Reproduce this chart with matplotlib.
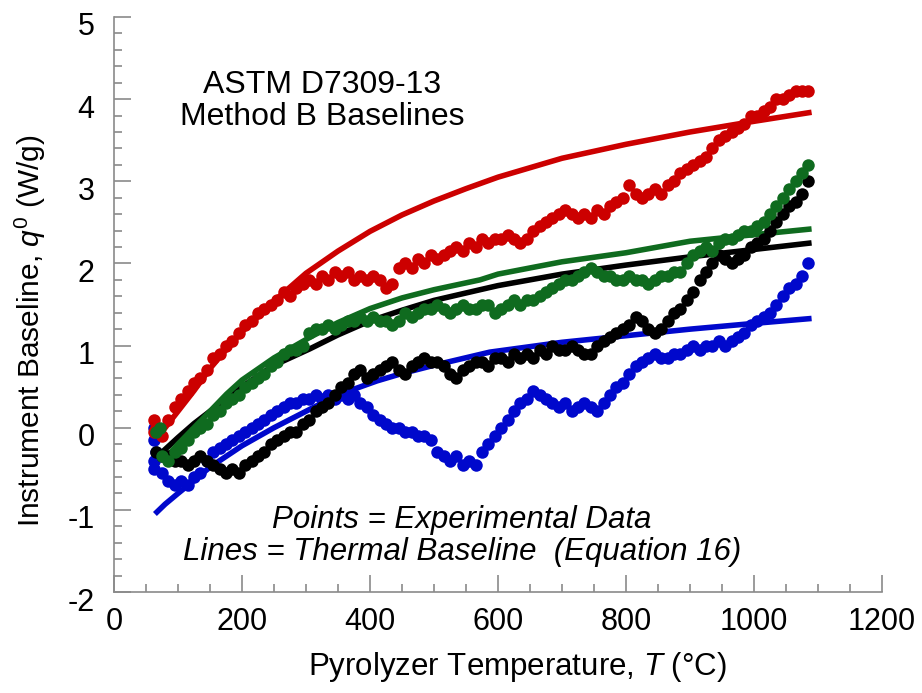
import numpy as np
import matplotlib
matplotlib.use("Agg")
import matplotlib.pyplot as plt
import matplotlib.transforms as mtransforms
from matplotlib.ticker import MultipleLocator

plt.rcParams['font.family'] = ['Liberation Sans', 'DejaVu Sans']
plt.rcParams['mathtext.fontset'] = 'custom'
plt.rcParams['mathtext.rm'] = 'Liberation Sans'
plt.rcParams['mathtext.it'] = 'Liberation Sans:italic'
plt.rcParams['axes.unicode_minus'] = False

# ---------------- data ----------------
T_points = np.arange(65, 1090, 10)   # 65, 75, ..., 1085

red_q = [0.0, -0.1, 0.1, 0.25,
         0.35, 0.45, 0.55, 0.6, 0.7, 0.85, 0.9, 1.0, 1.05, 1.15,
         1.25, 1.3, 1.4, 1.45, 1.5, 1.55, 1.65, 1.6, 1.7, 1.75,
         1.8, 1.75, 1.85, 1.8, 1.9, 1.85, 1.9, 1.8, 1.85, 1.8,
         1.85, 1.8, 1.7, 1.75, 1.95, 2.0, 1.95, 2.05, 2.0, 2.1,
         2.05, 2.1, 2.15, 2.2, 2.15, 2.25, 2.2, 2.3, 2.25, 2.3,
         2.3, 2.35, 2.3, 2.25, 2.3, 2.4, 2.45, 2.5, 2.55, 2.6,
         2.65, 2.6, 2.55, 2.6, 2.55, 2.65, 2.6, 2.7, 2.75, 2.8,
         2.95, 2.85, 2.8, 2.85, 2.9, 2.85, 2.95, 3.0, 3.1, 3.15,
         3.2, 3.25, 3.3, 3.4, 3.5, 3.55, 3.6, 3.65, 3.7, 3.8,
         3.8, 3.85, 3.9, 4.0, 4.0, 4.05, 4.1, 4.1, 4.1]

green_q = [-0.05, -0.35, -0.4, -0.3,
           -0.25, -0.15, -0.05, 0.0, 0.05, 0.15, 0.2, 0.3, 0.35, 0.4,
           0.5, 0.55, 0.6, 0.65, 0.75, 0.8, 0.9, 0.95, 0.95, 1.0,
           1.15, 1.2, 1.2, 1.25, 1.2, 1.25, 1.3, 1.3, 1.35, 1.3,
           1.35, 1.3, 1.3, 1.25, 1.3, 1.4, 1.35, 1.4, 1.45, 1.45,
           1.5, 1.45, 1.4, 1.45, 1.5, 1.45, 1.45, 1.5, 1.5, 1.4,
           1.45, 1.5, 1.55, 1.5, 1.55, 1.55, 1.6, 1.65, 1.7, 1.75,
           1.8, 1.8, 1.85, 1.9, 1.95, 1.9, 1.85, 1.85, 1.8, 1.8,
           1.85, 1.8, 1.8, 1.75, 1.8, 1.85, 1.85, 1.9, 1.9, 2.0,
           2.1, 2.15, 2.2, 2.15, 2.25, 2.3, 2.3, 2.35, 2.4, 2.4,
           2.45, 2.5, 2.6, 2.7, 2.8, 2.9, 3.0, 3.1, 3.2]

black_q = [-0.3, -0.35, -0.35, -0.4,
           -0.4, -0.45, -0.4, -0.35, -0.4, -0.45, -0.5, -0.55, -0.5, -0.55,
           -0.45, -0.4, -0.35, -0.3, -0.2, -0.15, -0.1, -0.05, -0.05, 0.05,
           0.1, 0.2, 0.25, 0.3, 0.4, 0.5, 0.55, 0.65, 0.7, 0.6,
           0.65, 0.7, 0.75, 0.8, 0.7, 0.65, 0.75, 0.8, 0.85, 0.8,
           0.8, 0.75, 0.65, 0.6, 0.7, 0.75, 0.8, 0.8, 0.75, 0.85,
           0.85, 0.8, 0.9, 0.85, 0.9, 0.85, 0.95, 0.9, 1.0, 0.95,
           0.95, 1.0, 0.95, 0.9, 0.9, 1.0, 1.05, 1.1, 1.15, 1.2,
           1.25, 1.35, 1.3, 1.2, 1.15, 1.2, 1.3, 1.4, 1.45, 1.55,
           1.65, 1.8, 1.9, 2.0, 2.1, 2.05, 2.0, 2.05, 2.1, 2.2,
           2.25, 2.3, 2.4, 2.5, 2.6, 2.7, 2.75, 2.85, 3.0]

blue_q = [-0.3, -0.55, -0.65, -0.7,
          -0.65, -0.7, -0.6, -0.55, -0.4, -0.3, -0.25, -0.2, -0.15, -0.1,
          -0.05, 0.0, 0.05, 0.1, 0.15, 0.2, 0.25, 0.3, 0.3, 0.35,
          0.35, 0.4, 0.35, 0.4, 0.35, 0.4, 0.35, 0.4, 0.3, 0.25,
          0.15, 0.1, 0.05, 0.0, 0.0, -0.05, -0.05, -0.1, -0.1, -0.15,
          -0.3, -0.35, -0.4, -0.35, -0.45, -0.4, -0.45, -0.3, -0.2, -0.1,
          0.0, 0.1, 0.2, 0.3, 0.35, 0.45, 0.4, 0.35, 0.3, 0.25,
          0.3, 0.2, 0.25, 0.3, 0.25, 0.2, 0.3, 0.4, 0.5, 0.55,
          0.65, 0.75, 0.8, 0.85, 0.9, 0.85, 0.85, 0.9, 0.9, 0.95,
          1.0, 0.95, 1.0, 1.0, 1.05, 1.0, 1.05, 1.1, 1.15, 1.25,
          1.3, 1.35, 1.4, 1.5, 1.6, 1.7, 1.75, 1.85, 2.0]

# extra points at the very start of each run (vertical spread)
red_start_T = [62, 62]
red_start_q = [0.1, -0.05]
blue_start_T = [62, 62, 62, 62]
blue_start_q = [0.0, -0.15, -0.4, -0.5]
green_start_T = [72]
green_start_q = [0.0]

# fitted thermal baselines (Equation 16)
red_fit_T = [70, 80, 100, 125, 150, 175, 200, 250, 300, 350, 400, 450, 500, 550, 600, 700, 800, 900, 1000, 1090]
red_fit_q = [-0.1, 0.0, 0.2, 0.45, 0.72, 0.95, 1.17, 1.54, 1.88, 2.15, 2.39, 2.59, 2.76, 2.91, 3.05, 3.28, 3.45, 3.6, 3.73, 3.84]

green_fit_T = [77, 100, 125, 150, 176, 200, 250, 306, 350, 400, 450, 500, 572, 600, 700, 800, 900, 1000, 1090]
green_fit_q = [-0.4, -0.2, 0.0, 0.2, 0.41, 0.58, 0.85, 1.1, 1.28, 1.45, 1.58, 1.68, 1.8, 1.87, 2.02, 2.13, 2.27, 2.35, 2.42]

black_fit_T = [72, 100, 125, 150, 176, 200, 250, 306, 350, 400, 450, 500, 572, 600, 700, 800, 900, 1000, 1090]
black_fit_q = [-0.32, -0.12, 0.05, 0.2, 0.33, 0.5, 0.76, 0.96, 1.13, 1.3, 1.43, 1.55, 1.68, 1.73, 1.87, 1.98, 2.08, 2.17, 2.25]

blue_fit_T = [64, 80, 100, 119, 150, 200, 250, 300, 350, 411, 450, 500, 587, 700, 800, 900, 1000, 1090]
blue_fit_q = [-1.05, -0.93, -0.8, -0.68, -0.48, -0.22, 0.0, 0.2, 0.4, 0.57, 0.66, 0.76, 0.92, 1.04, 1.12, 1.2, 1.27, 1.33]

RED = '#cc0000'
GREEN = '#0f6b1f'
BLUE = '#0008cc'
BLACK = '#000000'

# ---------------- figure ----------------
fig = plt.figure(figsize=(9.22, 6.93), dpi=100)
ax = fig.add_axes([0.1236, 0.1457, 0.833, 0.8298])

lw = 4.0
for T_f, q_f, c in [(blue_fit_T, blue_fit_q, BLUE), (black_fit_T, black_fit_q, BLACK),
                    (green_fit_T, green_fit_q, GREEN), (red_fit_T, red_fit_q, RED)]:
    ax.plot(T_f, q_f, color=c, lw=lw, solid_capstyle='butt', zorder=2)

ms = 9
series = [(blue_start_T, blue_start_q, blue_q, BLUE),
          ([], [], black_q, BLACK),
          (red_start_T, red_start_q, red_q, RED),
          (green_start_T, green_start_q, green_q, GREEN)]
for sT, sq, q, c in series:
    ax.plot(list(sT) + list(T_points), list(sq) + list(q), 'o', color=c, ms=ms,
            mec='none', zorder=3)

ax.set_xlim(0, 1200)
ax.set_ylim(-2, 5)
ax.xaxis.set_major_locator(MultipleLocator(200))
ax.xaxis.set_minor_locator(MultipleLocator(50))
ax.yaxis.set_major_locator(MultipleLocator(1))
ax.yaxis.set_minor_locator(MultipleLocator(0.2))

for s in ['top', 'right']:
    ax.spines[s].set_visible(False)
for s in ['left', 'bottom']:
    ax.spines[s].set_color('#8a8a8a')
    ax.spines[s].set_linewidth(1.2)

ax.tick_params(which='major', direction='in', length=12, width=1.2, color='#8a8a8a',
               labelsize=22)
ax.tick_params(which='minor', direction='in', length=6, width=1.2, color='#8a8a8a')
ax.tick_params(axis='x', which='major', pad=11)
ax.tick_params(axis='y', which='major', pad=14)

# y tick labels sit slightly below their ticks in the reference
offset = mtransforms.ScaledTranslation(0, -7 / 100, fig.dpi_scale_trans)
for lab in ax.get_yticklabels():
    lab.set_transform(lab.get_transform() + offset)

ax.set_xlabel('Pyrolyzer Temperature, $T$ (°C)', fontsize=22.5)
ax.xaxis.label.set_va('center')
ax.xaxis.set_label_coords(0.526, -0.1304)
ax.set_ylabel('Instrument Baseline, $q^0$ (W/g)', fontsize=21.5)
ax.yaxis.label.set_va('center')
ax.yaxis.set_label_coords(-0.109, 0.454)

ax.text(325, 3.98, 'ASTM D7309-13\nMethod B Baselines', ha='center', va='center',
        fontsize=23, linespacing=1.08)
ax.text(544, -1.12, 'Points = Experimental Data', ha='center', va='center',
        fontsize=22.5, style='italic')
ax.text(544, -1.51, 'Lines = Thermal Baseline  (Equation 16)', ha='center', va='center',
        fontsize=22.5, style='italic')

fig.savefig('out.png', dpi=100, facecolor='white')
